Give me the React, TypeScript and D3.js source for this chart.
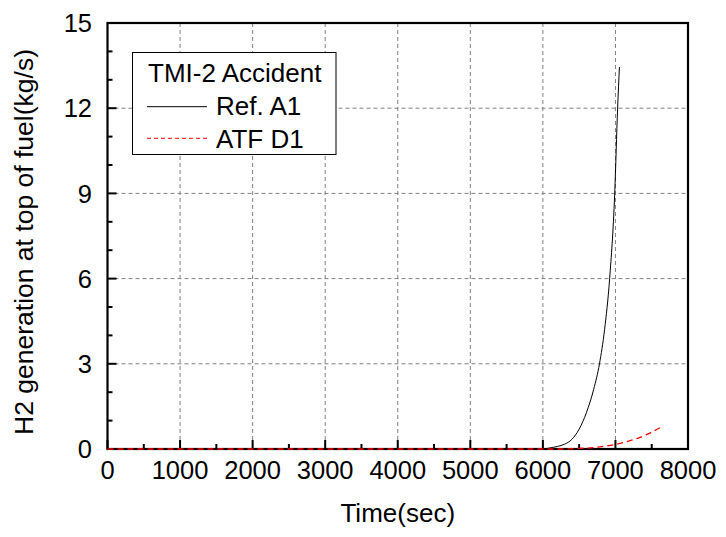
import React from "react";
import * as d3 from "d3";

const xTicks = [0, 1000, 2000, 3000, 4000, 5000, 6000, 7000, 8000];
const yTicks = [0, 3, 6, 9, 12, 15];
const xMinor = [500, 1500, 2500, 3500, 4500, 5500, 6500, 7500];
const yMinor = [1, 2, 4, 5, 7, 8, 10, 11, 13, 14];

const refTime = [0, 6000, 6100, 6200, 6300, 6400, 6500, 6600, 6700, 6780, 6850, 6920, 6990, 7030, 7055];
const refValue = [0, 0, 0.04, 0.09, 0.17, 0.34, 0.7, 1.28, 2.1, 3.0, 4.2, 6.0, 9.0, 12.0, 13.45];

const atfTime = [0, 6000, 6300, 6500, 6700, 6850, 7000, 7160, 7340, 7480, 7660];
const atfValue = [0, 0, 0, 0.02, 0.05, 0.1, 0.16, 0.26, 0.41, 0.57, 0.81];

const legendTitle = "TMI-2 Accident";
const seriesNames = ["Ref. A1", "ATF D1"];

const FONT = "'Liberation Sans', Arial, sans-serif";

export default function App() {
  const W = 726, H = 537;
  const L = 107.5, R = 688, T = 23, B = 449;
  const x = d3.scaleLinear().domain([0, 8000]).range([L, R]);
  const y = d3.scaleLinear().domain([0, 15]).range([B, T]);

  const line = d3
    .line<[number, number]>()
    .x((d) => x(d[0]))
    .y((d) => y(d[1]))
    .curve(d3.curveMonotoneX);

  const refPts: [number, number][] = refTime.map((t, i) => [t, refValue[i]]);
  const atfPts: [number, number][] = atfTime.map((t, i) => [t, atfValue[i]]);

  return (
    <svg width={W} height={H} style={{ position: "absolute", left: 0, top: 0 }}>
      <rect x={0} y={0} width={W} height={H} fill="#fff" />
      {/* grid */}
      {xTicks.slice(1, -1).map((t) => (
        <line key={"gx" + t} x1={x(t)} x2={x(t)} y1={T} y2={B} stroke="#808080" strokeWidth={1} strokeDasharray="4,3" />
      ))}
      {yTicks.slice(1, -1).map((t) => (
        <line key={"gy" + t} x1={L} x2={R} y1={y(t)} y2={y(t)} stroke="#808080" strokeWidth={1} strokeDasharray="4,3" />
      ))}
      {/* ticks */}
      {xTicks.map((t) => (
        <line key={"tx" + t} x1={x(t)} x2={x(t)} y1={B} y2={B - 9} stroke="#000" strokeWidth={2} />
      ))}
      {xMinor.map((t) => (
        <line key={"mx" + t} x1={x(t)} x2={x(t)} y1={B} y2={B - 5} stroke="#000" strokeWidth={2} />
      ))}
      {yTicks.map((t) => (
        <line key={"ty" + t} x1={L} x2={L + 9} y1={y(t)} y2={y(t)} stroke="#000" strokeWidth={2} />
      ))}
      {yMinor.map((t) => (
        <line key={"my" + t} x1={L} x2={L + 5} y1={y(t)} y2={y(t)} stroke="#000" strokeWidth={2} />
      ))}
      {/* frame */}
      <rect x={L} y={T} width={R - L} height={B - T} fill="none" stroke="#000" strokeWidth={2.2} />
      {/* curves */}
      <path d={line(refPts) || ""} fill="none" stroke="#000" strokeWidth={1} />
      <path d={line(atfPts) || ""} fill="none" stroke="#ff0000" strokeWidth={1.3} strokeDasharray="6,4" />
      {/* tick labels */}
      {xTicks.map((t) => (
        <text key={"lx" + t} x={x(t)} y={479} textAnchor="middle" fontFamily={FONT} fontSize={25.5} fill="#000">
          {t}
        </text>
      ))}
      {yTicks.map((t) => (
        <text key={"ly" + t} x={92} y={y(t)} dy="0.36em" textAnchor="end" fontFamily={FONT} fontSize={25.5} fill="#000">
          {t}
        </text>
      ))}
      {/* axis titles */}
      <text x={(L + R) / 2} y={522} textAnchor="middle" fontFamily={FONT} fontSize={26} fill="#000">
        Time(sec)
      </text>
      <text
        transform={`translate(33, ${242}) rotate(-90)`}
        textAnchor="middle"
        fontFamily={FONT}
        fontSize={26.5}
        fill="#000"
      >
        H2 generation at top of fuel(kg/s)
      </text>
      {/* legend */}
      <rect x={132.5} y={52.5} width={203.5} height={102} fill="#fff" stroke="#000" strokeWidth={1} />
      <text x={148} y={82} fontFamily={FONT} fontSize={26} fill="#000">
        {legendTitle}
      </text>
      <line x1={147} x2={207} y1={106.7} y2={106.7} stroke="#000" strokeWidth={1} />
      <text x={216} y={115} fontFamily={FONT} fontSize={26} fill="#000">
        {seriesNames[0]}
      </text>
      <line x1={147} x2={207} y1={138.3} y2={138.3} stroke="#ff0000" strokeWidth={1} strokeDasharray="4,3" />
      <text x={216} y={148} fontFamily={FONT} fontSize={26} fill="#000">
        {seriesNames[1]}
      </text>
    </svg>
  );
}
